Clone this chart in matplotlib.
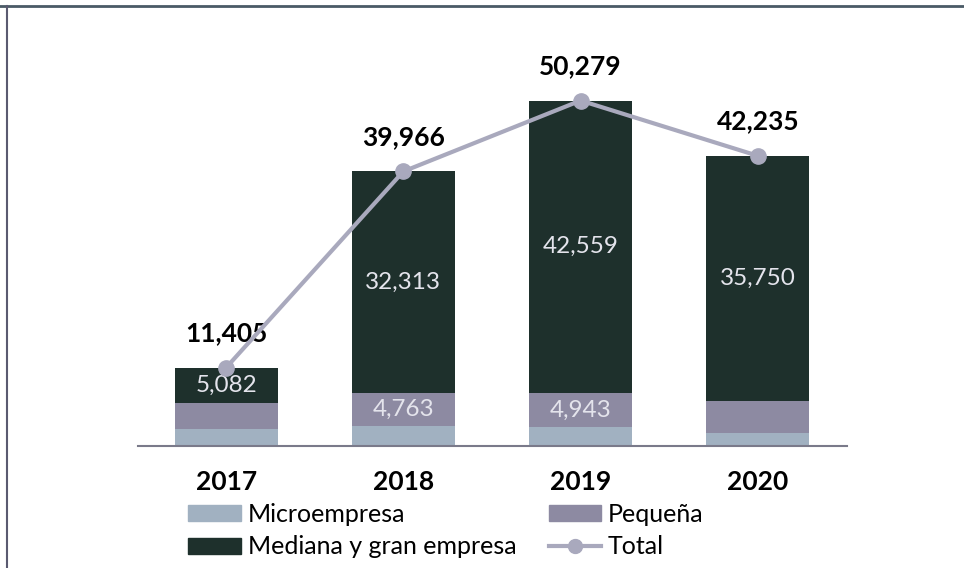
import numpy as np
import matplotlib.pyplot as plt
from matplotlib.lines import Line2D
from matplotlib.patches import Patch

plt.rcParams['font.family'] = ['Lato', 'DejaVu Sans']

years = ['2017', '2018', '2019', '2020']
micro = [2533, 2890, 2777, 1950]
pequena = [3790, 4763, 4943, 4535]
mediana = [5082, 32313, 42559, 35750]
total = [11405, 39966, 50279, 42235]

# which segments carry a value label
label_pequena = [False, True, True, False]
label_mediana = [True, True, True, True]

c_micro = '#a1b1c1'
c_peq = '#8d8aa2'
c_med = '#1e302c'
c_line = '#a9a9bd'

fig = plt.figure(figsize=(9.64, 5.68), dpi=100)
ax = fig.add_axes([137.5 / 964, 1 - 446 / 568, 709 / 964, 371 / 568])

x = np.arange(len(years))
w = 0.58
micro = np.array(micro)
pequena = np.array(pequena)
mediana = np.array(mediana)

ax.bar(x, micro, w, color=c_micro)
ax.bar(x, pequena, w, bottom=micro, color=c_peq)
ax.bar(x, mediana, w, bottom=micro + pequena, color=c_med)
ax.plot(x, total, color=c_line, lw=3, marker='o', ms=11, zorder=5)

for i in range(len(years)):
    if label_pequena[i]:
        ax.text(x[i], micro[i] + pequena[i] / 2, f'{pequena[i]:,}', ha='center', va='center',
                color='#e4e4ec', fontsize=17.5)
    if label_mediana[i]:
        ax.text(x[i], micro[i] + pequena[i] + mediana[i] / 2, f'{mediana[i]:,}', ha='center',
                va='center', color='#e4e4ec', fontsize=17.5)
    ax.annotate(f'{total[i]:,}', (x[i], total[i]), xytext=(0, 16), textcoords='offset points',
                ha='center', va='bottom', fontsize=19, fontweight='bold', color='black')

ax.set_xlim(-0.5, 3.5)
ax.set_ylim(0, 54000)
ax.set_xticks(x)
ax.set_xticklabels(years, fontsize=19, fontweight='bold')
ax.tick_params(axis='x', length=0, pad=17)
ax.set_yticks([])
for s in ['top', 'right', 'left']:
    ax.spines[s].set_visible(False)
ax.spines['bottom'].set_color('#7a7a8a')
ax.spines['bottom'].set_linewidth(1.5)

handles = [Patch(color=c_micro), Patch(color=c_med), Patch(color=c_peq),
           Line2D([0], [0], color=c_line, lw=3, marker='o', ms=10)]
labels = ['Microempresa', 'Mediana y gran empresa', 'Pequeña', 'Total']
fig.legend(handles, labels, ncol=2, loc='upper left', bbox_to_anchor=(188 / 964, 1 - 503 / 568),
           frameon=False, fontsize=18, handlelength=2.1, handleheight=0.6, handletextpad=0.28,
           columnspacing=1.3, labelspacing=0.38, borderaxespad=0, borderpad=0)

# frame lines of the scanned figure
fig.add_artist(Line2D([0, 1], [1 - 6 / 568, 1 - 6 / 568], color='#4a5a66', lw=2))
fig.add_artist(Line2D([7 / 964, 7 / 964], [0, 1 - 6 / 568], color='#5a5a70', lw=1.5))

fig.savefig('out.png', dpi=100)
